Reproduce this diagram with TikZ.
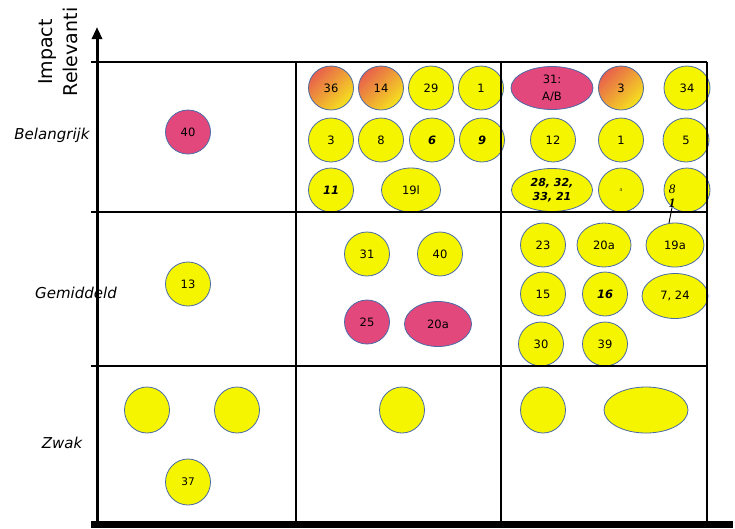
\documentclass[tikz,border=0pt]{standalone}
\usepackage{fontspec}
\setmainfont{DejaVu Sans}
\newfontfamily\notefont{Liberation Serif}
\usepackage{tikz}
\usetikzlibrary{positioning,arrows.meta,shapes.geometric}
\definecolor{DotYellow}{HTML}{F5F500}
\definecolor{DotPink}{HTML}{E2487C}
\definecolor{RimBlue}{HTML}{4A6AA5}
\definecolor{WarmRed}{HTML}{E8604C}
\definecolor{WarmYellow}{HTML}{F6E21E}

\begin{document}
\begin{tikzpicture}[
  x=1pt,y=-1pt,
  dot/.style={
    ellipse,
    draw=RimBlue,
    line width=0.8pt,
    fill=DotYellow,
    inner sep=0pt,
    minimum width=45pt,
    minimum height=44pt,
    align=center,
    font=\fontsize{11.5}{15}\selectfont
  },
  hotdot/.style={dot,fill=DotPink},
  warmdot/.style={dot,top color=WarmRed,bottom color=WarmYellow,shading angle=45},
  bolddot/.style={dot,font=\fontsize{11.5}{15}\selectfont\bfseries\itshape},
  zdot/.style={dot,minimum width=45pt,minimum height=46pt},
  rowlabel/.style={font=\fontsize{15}{18}\selectfont\itshape},
  cellline/.style={line width=2pt},
  axisline/.style={line width=3pt,-{Triangle[length=12pt,width=10pt]}}
]
\useasboundingbox (0,0) rectangle (735,528);

% axis title
\node[rotate=90,align=center,font=\fontsize{19}{25}\selectfont] (title) at (58,52) {Impact\\Relevanti};

% row labels
\node[rowlabel] (lbel) at (52,135) {Belangrijk};
\node[rowlabel] (lgem) at (76,293) {Gemiddeld};
\node[rowlabel] (lzwa) at (62,443) {Zwak};

% Belangrijk
\node[hotdot] (b40) at (188,132) {40};
\node[warmdot] (b36) at (331,88) {36};
\node[warmdot] (b14) at (381,88) {14};
\node[dot] (b29) at (431,88) {29};
\node[dot] (b1) at (481,88) {1};
\node[dot] (b3) at (331,140) {3};
\node[dot] (b8) at (381,140) {8};
\node[bolddot] (b6) at (432,140) {6};
\node[bolddot] (b9) at (482,140) {9};
\node[bolddot] (b11) at (331,190) {11};
\node[dot,minimum width=59pt] (b19) at (411,190) {19l};
\node[hotdot,minimum width=82pt,minimum height=43pt,font=\fontsize{11.5}{17}\selectfont] (b31) at (552,88) {31:\\A/B};
\node[warmdot] (b3w) at (621,88) {3};
\node[dot,minimum width=46pt] (b34) at (687,88) {34};
\node[dot] (b12) at (553,140) {12};
\node[dot] (b1r) at (621,140) {1};
\node[dot,minimum width=46pt] (b5) at (686,140) {5};
\node[bolddot,minimum width=81pt,minimum height=43pt,font=\fontsize{11}{14.5}\selectfont\bfseries\itshape] (b28) at (552,190) {28, 32,\\33, 21};
\node[dot] (b4) at (621,190) {\fontsize{4}{4}\selectfont 4};
\node[dot,minimum width=46pt] (b8r) at (687,190) {};
\node[font=\notefont\itshape\fontsize{13}{14}\selectfont,align=left,inner sep=0pt] (b8txt) at (672,196) {8\\\textbf{1}};

% Gemiddeld
\node[dot] (g13) at (188,284) {13};
\node[dot] (g31) at (367,254) {31};
\node[dot] (g40) at (440,254) {40};
\node[hotdot] (g25) at (367,322) {25};
\node[hotdot,minimum width=67pt,minimum height=45pt] (g20a) at (438,324) {20a};
\node[dot] (g23) at (543,245) {23};
\node[dot,minimum width=54pt] (g20b) at (604,245) {20a};
\node[dot,minimum width=58pt] (g19a) at (675,245) {19a};
\node[dot] (g15) at (543,294) {15};
\node[bolddot] (g16) at (605,294) {16};
\node[dot,minimum width=66pt,minimum height=45pt] (g724) at (675,296) {7, 24};
\node[dot] (g30) at (541,344) {30};
\node[dot] (g39) at (605,344) {39};

% Zwak
\node[zdot] (z1) at (147,410) {};
\node[zdot] (z2) at (237,410) {};
\node[zdot] (z3) at (402,410) {};
\node[zdot] (z4) at (543,410) {};
\node[zdot,minimum width=84pt] (z5) at (646,410) {};
\node[zdot,font=\fontsize{10.5}{11}\selectfont] (z37) at (188,482) {37};

\coordinate (tail) at (669,223);
\draw[line width=0.9pt] (b8txt.south) -- (tail);

% grid
\draw[cellline] (91,62) -- (707,62);
\draw[cellline] (91,212) -- (707,212);
\draw[cellline] (91,366) -- (707,366);
\foreach \gx in {296,501,707}
  \draw[cellline] (\gx,62) -- (\gx,521);
\draw[line width=7pt] (91,524.5) -- (733,524.5);

% axis
\coordinate (axbot) at (97,521);
\coordinate (axtop) at (97,27);
\draw[axisline] (axbot) -- (axtop);

\end{tikzpicture}
\end{document}
